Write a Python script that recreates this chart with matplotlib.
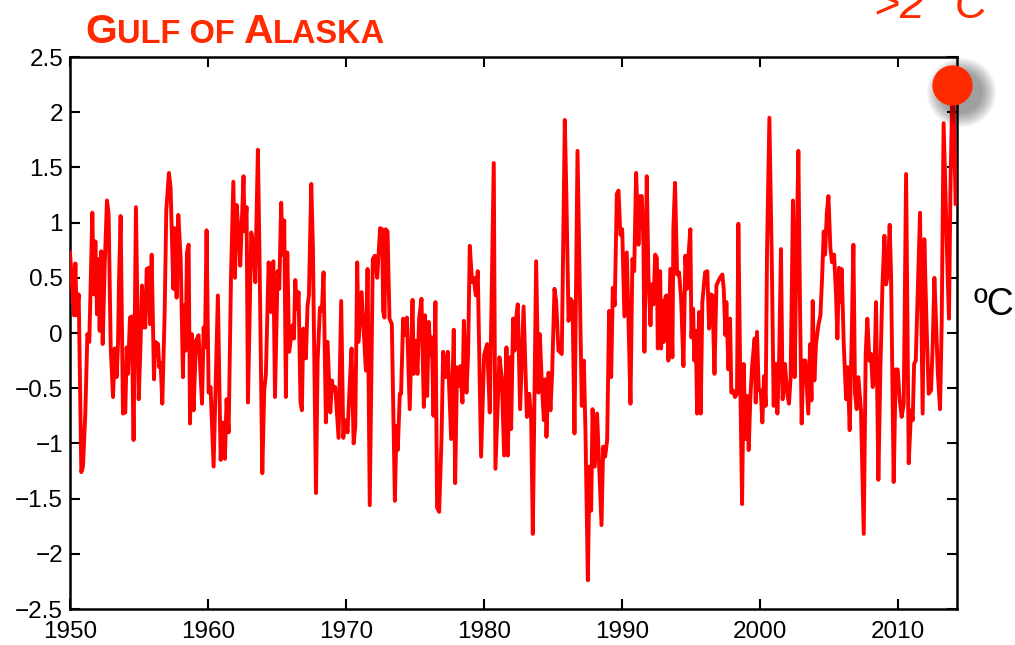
import numpy as np
import matplotlib
matplotlib.use('Agg')
import matplotlib.pyplot as plt
from matplotlib import font_manager, transforms

# monthly SST anomaly, Gulf of Alaska (year, degC)
anom_1950s = [(1950.00, 0.73), (1950.29, 0.16), (1950.39, 0.63), (1950.48, 0.16), (1950.63, 0.35),
              (1950.82, -1.26), (1950.94, -1.21), (1951.11, -0.73), (1951.26, -0.01), (1951.40, -0.08),
              (1951.62, 1.09), (1951.72, 0.35), (1951.84, 0.83), (1951.96, 0.17), (1952.05, 0.67),
              (1952.15, 0.02), (1952.27, 0.74), (1952.37, -0.10), (1952.51, 0.59), (1952.68, 1.20),
              (1952.80, 1.08), (1952.95, -0.13), (1953.12, -0.58), (1953.24, -0.14), (1953.38, -0.40),
              (1953.48, -0.10), (1953.55, 0.46), (1953.67, 1.06), (1953.84, -0.73), (1954.01, -0.72),
              (1954.11, -0.13), (1954.20, -0.37), (1954.35, 0.14), (1954.47, 0.15), (1954.61, -0.97),
              (1954.78, 1.14), (1954.98, -0.60), (1955.10, -0.16), (1955.22, 0.43), (1955.36, 0.05),
              (1955.46, 0.05), (1955.56, 0.58), (1955.70, 0.59), (1955.80, 0.08), (1955.92, 0.71),
              (1956.09, -0.42), (1956.18, -0.08), (1956.38, -0.10), (1956.47, -0.31), (1956.57, -0.27),
              (1956.69, -0.64), (1956.86, 0.17), (1956.98, 1.11), (1957.17, 1.45), (1957.29, 1.32),
              (1957.49, 0.40), (1957.58, 0.95), (1957.73, 0.32), (1957.85, 1.07), (1958.02, 0.68),
              (1958.19, -0.40), (1958.26, 0.25), (1958.38, -0.16), (1958.48, 0.73), (1958.60, 0.80),
              (1958.70, -0.82), (1958.84, -0.01), (1958.96, -0.70), (1959.13, -0.07), (1959.32, -0.02),
              (1959.57, -0.64), (1959.69, 0.05), (1959.78, -0.13), (1959.90, 0.93)]

anom_1960s = [(1960.05, -0.54), (1960.19, -0.49), (1960.41, -1.21), (1960.72, 0.34), (1960.92, -1.15),
              (1961.06, -0.81), (1961.23, -1.14), (1961.35, -0.60), (1961.50, -0.90), (1961.67, 0.50),
              (1961.84, 1.37), (1961.96, 0.50), (1962.08, 1.16), (1962.22, 0.92), (1962.34, 0.61),
              (1962.44, 0.95), (1962.58, 1.42), (1962.66, 0.92), (1962.80, 1.14), (1962.90, -0.63),
              (1963.14, 0.91), (1963.29, 0.80), (1963.43, 0.46), (1963.62, 1.66), (1963.74, 0.68),
              (1963.94, -1.27), (1964.08, -0.52), (1964.20, -0.37), (1964.40, 0.64), (1964.57, 0.19),
              (1964.74, 0.65), (1964.86, -0.58), (1965.05, 0.56), (1965.17, 0.40), (1965.31, 1.18),
              (1965.41, 0.71), (1965.53, 1.02), (1965.65, -0.58), (1965.75, 0.73), (1965.89, -0.17),
              (1966.14, 0.07), (1966.23, -0.05), (1966.33, 0.48), (1966.45, 0.22), (1966.57, 0.37),
              (1966.71, -0.63), (1966.81, -0.70), (1966.91, 0.04), (1967.10, -0.23), (1967.22, 0.25),
              (1967.32, 0.34), (1967.49, 1.35), (1967.61, 0.77), (1967.83, -1.45), (1967.95, -0.25),
              (1968.12, 0.23), (1968.26, 0.20), (1968.38, 0.55), (1968.55, -0.81), (1968.67, -0.08),
              (1968.87, -0.72), (1968.99, -0.43), (1969.08, -0.52), (1969.23, -0.49), (1969.47, -0.95),
              (1969.66, 0.29), (1969.81, -0.95), (1969.95, -0.79)]

anom_1970s = [(1970.12, -0.90), (1970.27, -0.49), (1970.41, -0.14), (1970.56, -1.00), (1970.68, -0.85),
              (1970.82, 0.64), (1970.92, -0.08), (1971.14, 0.37), (1971.45, -0.34), (1971.57, 0.58),
              (1971.73, -1.56), (1971.95, 0.67), (1972.10, 0.70), (1972.27, 0.50), (1972.48, 0.95),
              (1972.63, 0.94), (1972.70, 0.20), (1972.80, 0.14), (1972.89, 0.94), (1973.02, 0.92),
              (1973.16, 0.13), (1973.33, 0.08), (1973.55, -1.52), (1973.67, -0.84), (1973.76, -1.06),
              (1973.91, -0.55), (1974.00, -0.55), (1974.15, 0.13), (1974.30, -0.02), (1974.42, 0.14),
              (1974.63, -0.69), (1974.83, 0.30), (1974.92, -0.37), (1975.04, -0.07), (1975.19, -0.37),
              (1975.31, 0.13), (1975.48, 0.31), (1975.65, -0.67), (1975.74, 0.16), (1975.89, -0.57),
              (1976.01, 0.10), (1976.13, -0.20), (1976.23, -0.04), (1976.35, -0.75), (1976.49, 0.28),
              (1976.61, -1.58), (1976.76, -1.62), (1976.93, -0.97), (1977.05, -0.17), (1977.22, -0.40),
              (1977.39, -0.17), (1977.63, -0.96), (1977.82, 0.03), (1977.92, -1.36), (1978.06, -0.31),
              (1978.18, -0.48), (1978.30, -0.30), (1978.45, -0.63), (1978.55, 0.11), (1978.74, -0.54),
              (1978.86, -0.19), (1978.98, 0.79), (1979.15, 0.46), (1979.27, 0.50), (1979.42, 0.34),
              (1979.56, 0.56), (1979.80, -1.12)]

anom_1980s = [(1980.02, -0.20), (1980.24, -0.10), (1980.43, -0.72), (1980.72, 1.54), (1980.84, -1.23),
              (1981.13, -0.22), (1981.30, -0.40), (1981.47, -1.11), (1981.64, -0.13), (1981.74, -1.11),
              (1981.88, -0.22), (1981.98, -0.87), (1982.12, 0.13), (1982.22, -0.16), (1982.32, 0.11),
              (1982.46, 0.26), (1982.63, -0.69), (1982.88, 0.24), (1983.12, -0.76), (1983.29, -0.55),
              (1983.43, -0.78), (1983.55, -1.82), (1983.79, 0.65), (1983.96, -0.54), (1984.06, -0.01),
              (1984.20, -0.45), (1984.35, -0.79), (1984.45, -0.42), (1984.54, -0.94), (1984.69, -0.36),
              (1984.83, -0.70), (1984.95, -0.37), (1985.12, 0.40), (1985.24, 0.29), (1985.41, -0.16),
              (1985.65, -0.19), (1985.87, 1.93), (1985.99, 1.20), (1986.14, 0.11), (1986.28, 0.31),
              (1986.43, 0.28), (1986.57, -0.91), (1986.79, 1.65), (1986.93, 0.59), (1987.10, -0.66),
              (1987.25, -0.25), (1987.37, -0.91), (1987.54, -2.24), (1987.66, -1.21), (1987.78, -1.61),
              (1987.88, -0.69), (1988.04, -1.21), (1988.21, -0.73), (1988.36, -1.21), (1988.53, -1.74),
              (1988.65, -1.03), (1988.79, -1.12), (1988.94, -0.97), (1989.08, 0.20), (1989.23, -0.40),
              (1989.35, 0.41), (1989.49, 0.25), (1989.64, 1.26), (1989.76, 1.29), (1989.90, 0.89)]

anom_1990s = [(1990.03, 0.94), (1990.19, 0.15), (1990.36, 0.73), (1990.48, 0.14), (1990.63, -0.64),
              (1990.77, 0.67), (1990.90, 0.56), (1991.04, 1.45), (1991.21, 0.80), (1991.33, 1.24),
              (1991.45, 1.24), (1991.57, 0.80), (1991.64, -0.17), (1991.81, 1.42), (1991.93, 0.53),
              (1992.08, 0.07), (1992.17, 0.44), (1992.30, 0.26), (1992.42, 0.71), (1992.54, 0.68),
              (1992.61, -0.14), (1992.78, 0.56), (1992.85, -0.14), (1992.94, 0.29), (1993.04, -0.08),
              (1993.16, 0.32), (1993.23, 0.34), (1993.38, -0.25), (1993.52, 0.58), (1993.67, -0.22),
              (1993.74, 0.95), (1993.86, 1.36), (1994.01, 0.53), (1994.15, 0.55), (1994.30, 0.31),
              (1994.47, -0.30), (1994.61, 0.70), (1994.73, 0.40), (1994.85, 0.73), (1994.97, 0.94),
              (1995.05, -0.04), (1995.17, 0.22), (1995.26, -0.25), (1995.36, 0.02), (1995.46, -0.73),
              (1995.60, 0.19), (1995.72, -0.73), (1995.84, 0.28), (1996.04, 0.55), (1996.20, 0.56),
              (1996.33, 0.04), (1996.47, 0.35), (1996.57, 0.34), (1996.72, -0.37), (1996.86, 0.43),
              (1997.00, 0.47), (1997.12, 0.50), (1997.29, 0.53), (1997.39, 0.40), (1997.51, -0.02),
              (1997.58, 0.28), (1997.73, -0.33), (1997.85, 0.13), (1997.94, -0.54), (1998.06, -0.52),
              (1998.21, -0.58), (1998.35, -0.55), (1998.45, 0.99), (1998.60, -0.52), (1998.72, -1.55),
              (1998.84, -0.28), (1998.96, -0.96), (1999.08, -0.57), (1999.20, -1.06), (1999.32, -0.58),
              (1999.46, -0.28), (1999.63, -0.05), (1999.71, -0.63), (1999.80, 0.01), (1999.93, -0.52)]

anom_2000s = [(2000.07, -0.52), (2000.19, -0.81), (2000.31, -0.39), (2000.43, -0.66), (2000.53, 0.76),
              (2000.70, 1.95), (2000.87, 0.68), (2001.01, -0.66), (2001.16, -0.28), (2001.28, -0.73),
              (2001.40, -0.28), (2001.54, 0.76), (2001.66, -0.60), (2001.83, -0.28), (2001.98, -0.54),
              (2002.12, -0.64), (2002.24, -0.40), (2002.41, 1.20), (2002.53, -0.40), (2002.65, 0.59),
              (2002.80, 1.65), (2002.92, 0.23), (2003.04, -0.82), (2003.16, -0.25), (2003.31, -0.25),
              (2003.52, -0.73), (2003.65, -0.10), (2003.75, -0.61), (2003.84, 0.29), (2003.96, -0.43),
              (2004.08, -0.10), (2004.25, 0.07), (2004.40, 0.16), (2004.52, 0.50), (2004.64, 0.92),
              (2004.74, 0.71), (2004.86, 1.08), (2004.98, 1.24), (2005.12, 0.77), (2005.24, 0.64),
              (2005.39, 0.71), (2005.53, 0.35), (2005.63, -0.05), (2005.75, 0.59), (2005.85, 0.28),
              (2005.94, 0.58), (2006.09, -0.10), (2006.26, -0.60), (2006.38, -0.31), (2006.52, -0.88),
              (2006.67, -0.01), (2006.79, 0.80), (2006.91, -0.55), (2007.03, -0.69), (2007.15, -0.40),
              (2007.34, -0.70), (2007.54, -1.82), (2007.68, -0.19), (2007.80, 0.13), (2007.95, -0.25),
              (2008.07, -0.19), (2008.19, -0.49), (2008.31, -0.40), (2008.43, 0.28), (2008.60, -1.33),
              (2008.75, -0.31), (2008.89, 0.41), (2009.04, 0.88), (2009.16, 0.44), (2009.28, 0.53),
              (2009.42, 0.98), (2009.52, 0.53), (2009.71, -1.35), (2009.86, -0.33)]

anom_2010s = [(2010.00, -0.33), (2010.15, -0.61), (2010.29, -0.76), (2010.44, -0.64), (2010.61, 1.44),
              (2010.80, -1.18), (2010.97, -0.70), (2011.09, -0.79), (2011.19, -0.28), (2011.31, -0.25),
              (2011.45, 0.35), (2011.62, 1.09), (2011.81, -0.73), (2011.93, 0.85), (2012.10, 0.04),
              (2012.25, -0.55), (2012.42, -0.52), (2012.54, -0.10), (2012.66, 0.50), (2012.78, 0.11),
              (2012.90, -0.34), (2013.07, -0.69), (2013.19, 0.08), (2013.33, 1.90), (2013.48, 1.20),
              (2013.62, 0.53), (2013.72, 0.13), (2013.82, 1.26), (2013.94, 2.07), (2014.04, 2.16),
              (2014.20, 1.17)]

# latest value, highlighted with a big dot
latest_year = 2013.96
latest_value = 2.25

x_ticks = [1950, 1960, 1970, 1980, 1990, 2000, 2010]
y_ticks = [-2.5, -2, -1.5, -1, -0.5, 0, 0.5, 1, 1.5, 2, 2.5]
y_tick_labels = ['\u22122.5', '\u22122', '\u22121.5', '\u22121', '\u22120.5', '0',
                 '0.5', '1', '1.5', '2', '2.5']

serie = np.array(anom_1950s + anom_1960s + anom_1970s + anom_1980s
                 + anom_1990s + anom_2000s + anom_2010s)
anos, anomalia = serie[:, 0], serie[:, 1]

# narrow bold face for the title if there is one, else shrink the normal bold
try:
    font_manager.findfont('Liberation Sans Narrow', fallback_to_default=False)
    fonte_titulo, tam_grande, tam_peq = 'Liberation Sans Narrow', 31, 25
except ValueError:
    fonte_titulo, tam_grande, tam_peq = 'Liberation Sans', 29.5, 23.5

plt.rcParams['font.family'] = ['Liberation Sans', 'DejaVu Sans']
laranja = '#ff2a00'

W, H = 1015, 645
fig = plt.figure(figsize=(W / 100, H / 100), dpi=100)
ax = fig.add_axes([70 / W, 36 / H, 887 / W, 552 / H])

ax.plot(anos, anomalia, color='#ff0000', lw=2.8, solid_joinstyle='round', zorder=3)

# soft shadow under the dot
sombra = transforms.offset_copy(ax.transData, fig=fig, x=6, y=-5, units='points')
for k in range(10):
    ax.plot(latest_year, latest_value, 'o', ms=30 + 2.2 * k, color='black',
            alpha=0.045, mec='none', transform=sombra, clip_on=False, zorder=4)
ax.plot(latest_year, latest_value, 'o', ms=29, color=laranja, mec='none',
        clip_on=False, zorder=5)

ax.set_xlim(1950, 2014.3)
ax.set_ylim(-2.5, 2.5)
ax.set_xticks(x_ticks)
ax.set_yticks(y_ticks)
ax.set_yticklabels(y_tick_labels)
ax.tick_params(direction='in', length=7, width=1.5, top=True, right=True,
               labelsize=17.5, colors='black')
ax.tick_params(axis='y', pad=5)
ax.tick_params(axis='x', pad=9)
for s in ax.spines.values():
    s.set_linewidth(1.8)

# title in small caps, built from pieces
base_y = 1 - 43 / H
prev = fig.text(85 / W, base_y, 'G', fontsize=tam_grande, fontweight='bold', color=laranja,
                family=fonte_titulo, ha='left', va='baseline')
for txt, tam in [('ULF OF ', tam_peq), ('A', tam_grande), ('LASKA', tam_peq)]:
    prev = ax.annotate(txt, xy=(1, base_y), xycoords=(prev, 'figure fraction'),
                       fontsize=tam, fontweight='bold', color=laranja, family=fonte_titulo,
                       ha='left', va='baseline', annotation_clip=False)

fig.text(874 / W, 1 - 18 / H, '>2\u00b0 C', fontsize=32, style='italic', color=laranja,
         ha='left', va='baseline')
fig.text(973 / W, 1 - 315 / H, '\u00baC', fontsize=27, color='black',
         ha='left', va='baseline')

fig.savefig('out.png', dpi=100)
